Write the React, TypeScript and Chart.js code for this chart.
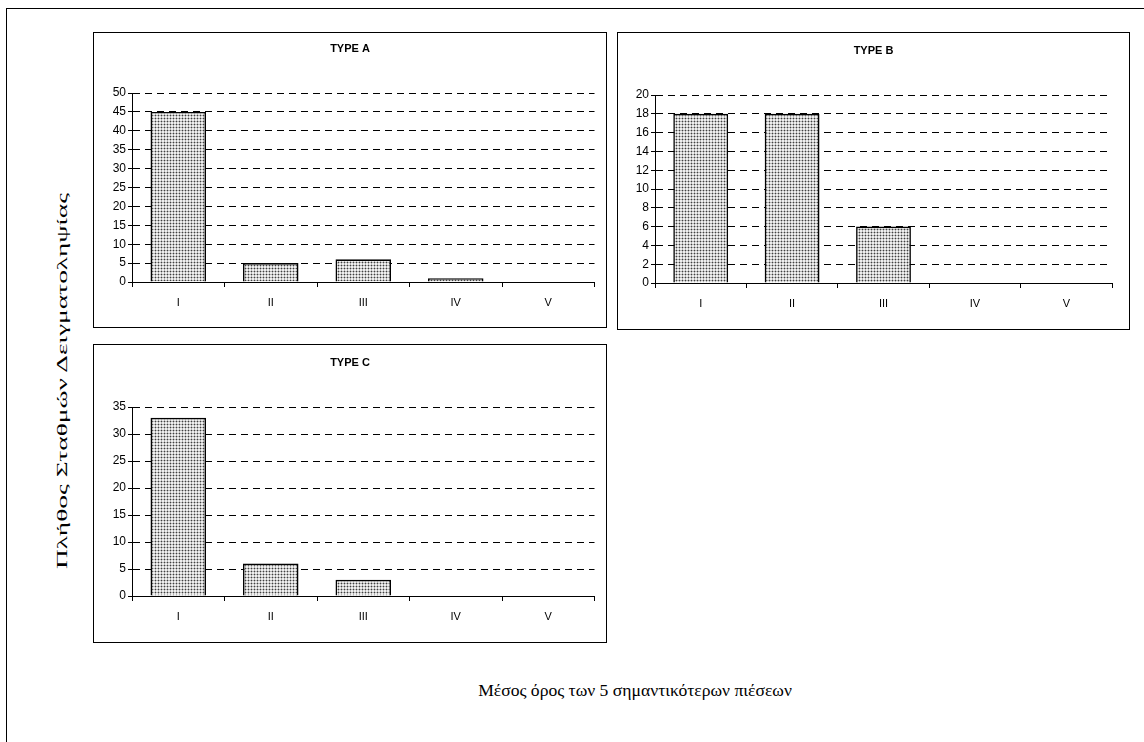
import React, { useEffect, useRef } from "react";
import { Chart, registerables } from "chart.js";

Chart.register(...registerables);

// ---- data ----
const categories = ["I", "II", "III", "IV", "V"];
const typeAValues = [45, 5, 6, 1, 0];
const typeBValues = [18, 18, 6, 0, 0];
const typeCValues = [33, 6, 3, 0, 0];
const typeATicks = { max: 50, step: 5 };
const typeBTicks = { max: 20, step: 2 };
const typeCTicks = { max: 35, step: 5 };
const panelTitles = ["TYPE A", "TYPE B", "TYPE C"];
const yAxisTitle = "Πλήθος Σταθμών Δειγματοληψίας";
const xAxisTitle = "Μέσος όρος των 5 σημαντικότερων πιέσεων";

function makePattern(): CanvasPattern | string {
  const c = document.createElement("canvas");
  c.width = 3;
  c.height = 3;
  const g = c.getContext("2d");
  if (!g) return "#ccc";
  g.fillStyle = "#eeeeee";
  g.fillRect(0, 0, 3, 3);
  g.fillStyle = "#b4b4b4";
  g.fillRect(0, 1, 3, 1);
  g.fillRect(1, 0, 1, 3);
  g.fillStyle = "#404040";
  g.fillRect(1, 1, 1, 1);
  const p = g.createPattern(c, "repeat");
  return p || "#ccc";
}

type Box = { left: number; top: number; width: number; height: number };
type Plot = { left: number; right: number; top: number; bottom: number; titleY: number };

function Panel(props: {
  title: string;
  values: number[];
  max: number;
  step: number;
  box: Box;
  plot: Plot;
}) {
  const ref = useRef<HTMLCanvasElement | null>(null);
  const { title, values, max, step, box, plot } = props;
  const W = box.width - 2;
  const H = box.height - 2;
  useEffect(() => {
    if (!ref.current) return;
    const xFont = { family: "'Liberation Sans', Arial, sans-serif", size: 11 };
    const yFont = { family: "'Liberation Sans', Arial, sans-serif", size: 12 };
    const side = W - plot.right;
    const titleLH = 11 * 1.2;
    const padTop = plot.titleY - titleLH / 2;
    const padBottom = plot.top - padTop - titleLH;
    const chart = new Chart(ref.current, {
      type: "bar",
      data: {
        labels: categories,
        datasets: [
          {
            data: values,
            backgroundColor: makePattern() as any,
            borderColor: "#000",
            borderWidth: 1.6,
            barPercentage: 0.6,
            categoryPercentage: 1,
          },
        ],
      },
      options: {
        animation: false,
        responsive: false,
        maintainAspectRatio: false,
        devicePixelRatio: 1,
        layout: { padding: { left: side, right: side, top: 0, bottom: 0 } },
        plugins: {
          legend: { display: false },
          tooltip: { enabled: false },
          title: {
            display: true,
            text: title,
            color: "#000",
            font: { family: "'Liberation Sans', Arial, sans-serif", size: 11, weight: "bold" },
            padding: { top: padTop, bottom: padBottom },
          },
        },
        scales: {
          x: {
            grid: {
              display: true,
              drawOnChartArea: false,
              drawTicks: true,
              tickLength: 5,
              color: "#000",
              offset: true,
            },
            border: { display: true, color: "#000", width: 1 },
            ticks: { color: "#000", font: xFont, padding: 9, maxRotation: 0, autoSkip: false },
            afterFit: (s: any) => {
              s.height = H - plot.bottom;
            },
          },
          y: {
            min: 0,
            max,
            ticks: { stepSize: step, color: "#000", font: yFont, padding: 2 },
            grid: { color: "#000", lineWidth: 1, tickLength: 4, drawTicks: true },
            border: { display: true, color: "#000", width: 1, dash: [7, 5] },
            afterFit: (s: any) => {
              s.width = plot.left - side;
            },
          },
        },
      },
    } as any);
    return () => chart.destroy();
  }, []);
  return (
    <div
      style={{
        position: "absolute",
        left: box.left,
        top: box.top,
        width: box.width - 2,
        height: box.height - 2,
        border: "1px solid #000",
        background: "#fff",
      }}
    >
      <canvas ref={ref} width={W} height={H} style={{ display: "block", width: W, height: H }} />
    </div>
  );
}

export default function App() {
  return (
    <div
      style={{
        position: "fixed",
        left: 0,
        top: 0,
        width: 1144,
        height: 742,
        overflow: "hidden",
        background: "#fff",
      }}
    >
      <div
        style={{
          position: "absolute",
          left: 6,
          top: 8,
          width: 1200,
          height: 800,
          border: "1px solid #000",
        }}
      />
      <Panel
        title={panelTitles[0]}
        values={typeAValues}
        max={typeATicks.max}
        step={typeATicks.step}
        box={{ left: 93, top: 32, width: 514, height: 296 }}
        plot={{ left: 38, right: 500.5, top: 60, bottom: 249, titleY: 16 }}
      />
      <Panel
        title={panelTitles[1]}
        values={typeBValues}
        max={typeBTicks.max}
        step={typeBTicks.step}
        box={{ left: 617, top: 32, width: 513, height: 298 }}
        plot={{ left: 37, right: 494, top: 62, bottom: 250, titleY: 18 }}
      />
      <Panel
        title={panelTitles[2]}
        values={typeCValues}
        max={typeCTicks.max}
        step={typeCTicks.step}
        box={{ left: 93, top: 344, width: 514, height: 299 }}
        plot={{ left: 38, right: 500.5, top: 62, bottom: 251, titleY: 18 }}
      />
      <div
        style={{
          position: "absolute",
          left: 62,
          top: 381,
          transform: "translate(-50%, -50%) rotate(-90deg) scaleX(1.83)",
          whiteSpace: "nowrap",
          fontFamily: "'Liberation Serif', 'Times New Roman', serif",
          fontSize: 15,
          color: "#000",
        }}
      >
        {yAxisTitle}
      </div>
      <div
        style={{
          position: "absolute",
          left: 635,
          top: 691,
          transform: "translate(-50%, -50%) scaleX(1.1)",
          whiteSpace: "nowrap",
          fontFamily: "'Liberation Serif', 'Times New Roman', serif",
          fontSize: 16,
          color: "#000",
        }}
      >
        {xAxisTitle}
      </div>
    </div>
  );
}
